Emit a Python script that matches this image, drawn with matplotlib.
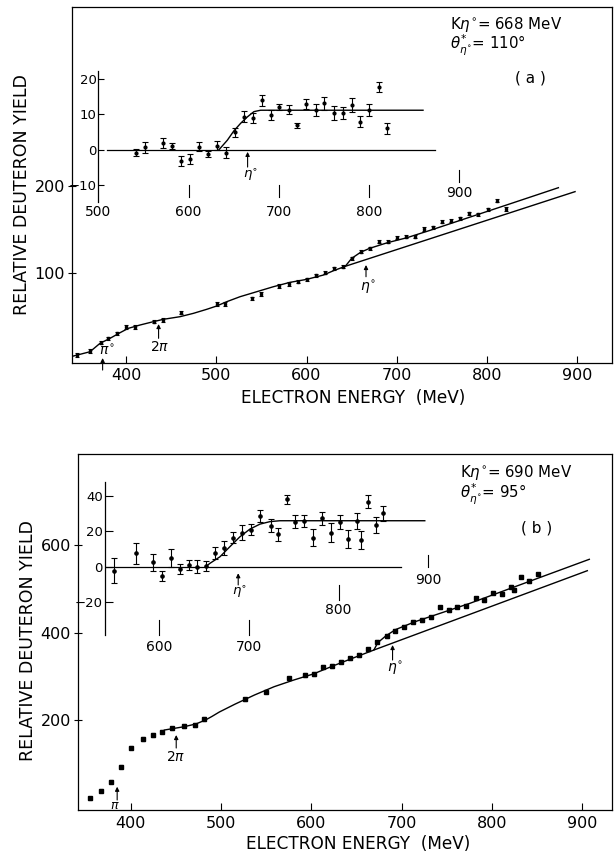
import matplotlib
matplotlib.use("Agg")
import matplotlib.pyplot as plt

# ---- panel (a) main: deuteron yield vs electron energy
a_energy = [345.4, 359.7, 371.9, 379.7, 389.7, 399.7, 409.7, 430.2, 440.2, 460.2,
            500.1, 509.5, 539.5, 549.5, 569.5, 580.1, 590.1, 600.1, 610.1, 620.1,
            630.1, 640.1, 650.1, 660.5, 670.0, 680.5, 690.0, 700.4, 710.0, 720.4,
            730.4, 740.4, 750.4, 760.4, 770.4, 780.4, 790.4, 800.9, 810.9, 820.9]
a_yield = [6.7, 11.3, 20.8, 25.8, 31.5, 39.0, 39.0, 44.8, 46.7, 55.0,
           65.0, 65.0, 71.5, 76.4, 85.5, 87.8, 90.4, 93.1, 97.7, 100.7,
           105.7, 107.5, 117.1, 124.7, 128.5, 136.1, 136.1, 140.6, 141.8, 141.8,
           150.6, 152.5, 158.9, 160.0, 162.8, 168.5, 167.4, 173.1, 182.9, 173.4]
a_fit_x = [341.2, 359.7, 370.8, 381.9, 393.0, 402.2, 415.2, 430.0, 441.1, 459.6,
           474.4, 489.2, 500.3, 511.4, 526.2, 544.7, 563.2, 581.7, 600.2, 618.6,
           630.0, 643.0, 650.0, 660.0, 670.0, 690.0, 711.0, 737.0, 781.0, 825.0, 879.5]
a_fit_y = [5.6, 10.5, 20.1, 25.8, 32.2, 37.2, 41.0, 44.8, 47.5, 50.5,
           54.3, 58.9, 62.7, 67.6, 73.3, 79.0, 84.7, 89.7, 93.1, 98.0,
           103.0, 108.0, 117.0, 124.0, 128.5, 135.0, 140.5, 149.0, 164.0, 179.0, 197.7]
a_bg_x = [643.0, 898.0]
a_bg_y = [108.0, 193.2]

# ---- panel (a) inset: yield above background
a_ins_energy = [541.4, 551.8, 571.3, 581.7, 591.2, 601.6, 611.6, 621.1, 631.1, 641.0,
                651.4, 661.0, 671.3, 681.3, 691.2, 700.7, 711.1, 720.6, 730.5, 741.0,
                750.4, 760.8, 770.7, 780.7, 790.6, 800.6, 811.0, 820.5]
a_ins_yield = [-0.9, 0.7, 1.9, 1.1, -3.3, -2.5, 0.9, -1.2, 1.2, -0.8,
               4.9, 9.4, 9.0, 14.0, 9.9, 12.1, 11.3, 6.9, 13.0, 11.3,
               13.2, 10.4, 10.4, 12.6, 8.0, 11.3, 17.8, 6.1]
a_ins_err = [1.0, 1.5, 1.4, 0.8, 1.4, 1.4, 1.2, 0.8, 1.2, 1.5,
             1.4, 1.5, 1.5, 1.5, 1.5, 0.8, 1.3, 0.8, 1.5, 1.8,
             1.8, 2.0, 1.7, 2.0, 1.5, 1.8, 1.5, 1.5]
a_ins_fit_x = [633.6, 642.9, 650.3, 657.7, 665.1, 672.4, 679.8, 688.0, 860.0]
a_ins_fit_y = [0.0, 2.7, 5.4, 7.5, 9.3, 10.8, 11.2, 11.2, 11.2]
a_ins_zero_x = [509.0, 873.0]

# ---- panel (b) main
b_energy = [355.0, 367.1, 378.0, 389.7, 400.6, 413.5, 424.4, 434.3, 446.1, 459.0,
            470.8, 480.7, 526.2, 550.0, 575.3, 593.5, 603.4, 613.0, 623.0, 632.5,
            642.4, 652.8, 662.8, 672.8, 683.3, 693.2, 702.7, 712.6, 722.6, 732.2,
            742.2, 752.6, 761.7, 771.2, 782.1, 791.6, 800.8, 811.2, 821.2, 824.1,
            832.0, 841.5, 851.5]
b_yield = [22.2, 39.5, 60.1, 94.3, 137.6, 157.5, 166.6, 174.1, 181.9, 187.1,
           189.4, 203.1, 248.0, 265.4, 296.0, 303.5, 305.8, 322.4, 324.0, 333.8,
           341.6, 349.1, 362.1, 379.5, 392.5, 404.6, 413.7, 425.1, 429.0, 435.1,
           458.0, 451.8, 459.3, 461.6, 478.5, 474.6, 491.3, 488.3, 505.0, 497.4,
           527.8, 518.0, 533.2]
b_fit_x = [437.3, 459.0, 472.1, 483.0, 490.0, 498.1, 515.5, 537.1, 558.8, 580.5, 602.1,
           623.8, 645.5, 669.3, 673.6, 682.4, 693.2, 714.9, 775.6, 840.6, 907.9]
b_fit_y = [178.0, 185.5, 191.7, 201.0, 209.0, 219.0, 237.0, 257.9, 276.8, 292.0, 305.8,
           324.0, 341.6, 360.5, 377.2, 392.5, 407.0, 425.1, 467.0, 516.4, 567.5]
b_bg_x = [669.3, 905.7]
b_bg_y = [360.5, 541.5]

# ---- panel (b) inset
b_ins_energy = [549.5, 574.0, 593.3, 603.3, 613.0, 623.0, 633.0, 642.4, 651.7, 662.1,
                672.1, 681.8, 691.8, 701.9, 712.3, 724.2, 732.7, 742.4, 751.3, 761.3,
                771.7, 781.4, 791.1, 801.5, 810.0, 820.0, 824.5, 832.7, 841.2, 849.7]
b_ins_yield = [-2.2, 7.5, 2.4, -5.0, 5.0, -1.1, 0.8, 0.0, 0.4, 7.9,
               10.4, 16.4, 19.2, 20.7, 28.6, 23.1, 18.2, 38.0, 25.4, 25.9,
               16.4, 27.3, 19.2, 25.4, 15.4, 25.7, 15.0, 36.6, 23.5, 30.0]
b_ins_err = [7.0, 6.0, 5.0, 2.8, 4.9, 2.8, 2.8, 3.8, 2.8, 3.3,
             3.8, 3.3, 4.2, 3.1, 3.3, 3.5, 3.5, 2.5, 3.8, 3.3,
             4.9, 3.8, 5.3, 4.0, 5.0, 4.5, 4.9, 3.8, 4.4, 4.2]
b_ins_fit_x = [651.7, 656.5, 667.7, 678.8, 690.0, 701.1, 712.3, 723.4, 734.5, 896.0]
b_ins_fit_y = [0.0, 1.9, 5.6, 11.3, 16.9, 21.2, 24.0, 25.4, 25.9, 25.9]
b_ins_zero_x = [539.5, 870.0]

main_xticks = [400, 500, 600, 700, 800, 900]
a_yticks = [100, 200]
b_yticks = [200, 400, 600]
a_ins_yticks = [-10, 0, 10, 20]
b_ins_yticks = [-20, 0, 20, 40]
ins_xtick_labels = [500, 600, 700, 800, 900]

plt.rcParams['font.family'] = ['DejaVu Sans']
K = 'black'

fig = plt.figure(figsize=(6.14, 8.55), dpi=100)


def main_axes(rect, xlim, ylim, yticks):
    ax = fig.add_axes(rect)
    ax.set_xlim(*xlim)
    ax.set_ylim(*ylim)
    ax.set_xticks(main_xticks)
    ax.set_yticks(yticks)
    ax.tick_params(axis='x', direction='in', length=5, width=0.8, labelsize=11.5, pad=4)
    ax.tick_params(axis='y', direction='inout', length=6, width=0.8, labelsize=11.5, pad=2)
    for s in ax.spines.values():
        s.set_linewidth(0.9)
    ax.set_xlabel('ELECTRON ENERGY  (MeV)', fontsize=12.2)
    ax.set_ylabel('RELATIVE DEUTERON YIELD', fontsize=12.5)
    ax.xaxis.label.set_va('center')
    ax.yaxis.label.set_va('center')
    return ax


def inset_axes(rect, xlim, ylim, yticks):
    ax = fig.add_axes(rect)
    ax.patch.set_alpha(0)
    ax.set_xlim(*xlim)
    ax.set_ylim(*ylim)
    for side in ['top', 'right', 'bottom']:
        ax.spines[side].set_visible(False)
    ax.spines['left'].set_linewidth(0.9)
    ax.set_xticks([])
    ax.set_yticks(yticks)
    ax.tick_params(axis='y', direction='in', length=4, width=0.8, labelsize=9.5, pad=1.5)
    return ax


def arrow(ax, x, y0, y1, label, lx, ly, fs=10):
    ax.annotate('', xy=(x, y1), xytext=(x, y0), annotation_clip=False,
                arrowprops=dict(arrowstyle='-|>', lw=0.8, color=K, mutation_scale=6,
                                shrinkA=0, shrinkB=0))
    ax.text(lx, ly, label, ha='center', va='center', fontsize=fs, clip_on=False)


# ================= panel (a) =================
ax = main_axes([0.1168, 0.5758, 0.8795, 0.4164], (339.4, 938.7), (-2, 404.3), a_yticks)
ax.xaxis.set_label_coords(0.522, -0.099)
ax.yaxis.set_label_coords(-0.092, 0.471)
ax.plot(a_fit_x, a_fit_y, color=K, lw=1.0)
ax.plot(a_bg_x, a_bg_y, color=K, lw=1.0)
ax.errorbar(a_energy, a_yield, yerr=2.0, fmt='s', ms=2.1, color=K, elinewidth=0.8,
            capsize=1.6, capthick=0.8)
arrow(ax, 373.7, -10.4, 3.3, r'$\pi^{\circ}$', 378.5, 11.5, fs=10)
arrow(ax, 435.8, 25.8, 42.1, r'2$\pi$', 437.5, 15.5, fs=10)
arrow(ax, 666.0, 96.1, 109.5, r'$\eta^{\circ}$', 667.7, 84.0, fs=10)
ax.text(0.7006, 0.9486, r'K$\eta^{\circ}$= 668 MeV', transform=ax.transAxes,
        fontsize=10.8, va='center', ha='left')
ax.text(0.7006, 0.8924, r'$\theta^{*}_{\eta^{\circ}}$= 110°', transform=ax.transAxes,
        fontsize=10.8, va='center', ha='left')
ax.text(0.8496, 0.7997, '( a )', transform=ax.transAxes, fontsize=11, va='center', ha='center')

ia = inset_axes([0.16042, 0.76374, 0.62134, 0.15357], (500, 923.2), (-14.8, 22.4), a_ins_yticks)
ia.plot(a_ins_zero_x, [0, 0], color=K, lw=0.9)
ia.plot(a_ins_fit_x, a_ins_fit_y, color=K, lw=1.0)
ia.errorbar(a_ins_energy, a_ins_yield, yerr=a_ins_err, fmt='o', ms=2.0, color=K,
            elinewidth=0.8, capsize=2.0, capthick=0.8)
# staggered energy scale of the inset
for v in ins_xtick_labels:
    if v == 900:
        ia.plot([v, v], [-5.75, -9.15], color=K, lw=0.8, clip_on=False)
        ia.text(v, -12.3, str(v), ha='center', va='center', fontsize=10, clip_on=False)
    else:
        if v != 500:
            ia.plot([v, v], [-10.0, -13.4], color=K, lw=0.8, clip_on=False)
        ia.text(v, -17.6, str(v), ha='center', va='center', fontsize=10, clip_on=False)
arrow(ia, 665.4, -4.9, -0.6, r'$\eta^{\circ}$', 668.5, -7.0, fs=9.5)

# ================= panel (b) =================
bx = main_axes([0.1270, 0.05263, 0.8697, 0.4164], (341.6, 933.0), (-4.5, 807.8), b_yticks)
bx.xaxis.set_label_coords(0.524, -0.0955)
bx.yaxis.set_label_coords(-0.094, 0.475)
bx.plot(b_fit_x, b_fit_y, color=K, lw=1.0)
bx.plot(b_bg_x, b_bg_y, color=K, lw=1.0)
bx.errorbar(b_energy, b_yield, yerr=4.0, fmt='s', ms=2.8, color=K, elinewidth=0.8,
            capsize=1.4, capthick=0.8)
arrow(bx, 385.0, 18.3, 48.6, r'$\pi$', 382.6, 6.9, fs=9)
arrow(bx, 450.4, 136.9, 166.6, r'2$\pi$', 450.2, 117.0, fs=10)
arrow(bx, 690.0, 337.7, 371.9, r'$\eta^{\circ}$', 693.2, 320.0, fs=10)
bx.text(0.7154, 0.9486, r'K$\eta^{\circ}$= 690 MeV', transform=bx.transAxes,
        fontsize=10.8, va='center', ha='left')
bx.text(0.7154, 0.8876, r'$\theta^{*}_{\eta^{\circ}}$= 95°', transform=bx.transAxes,
        fontsize=10.8, va='center', ha='left')
bx.text(0.8584, 0.7913, '( b )', transform=bx.transAxes, fontsize=11, va='center', ha='center')

ib = inset_axes([0.17101, 0.25731, 0.59446, 0.17930], (539.5, 946.4), (-38.5, 47.9), b_ins_yticks)
ib.tick_params(axis='y', length=6)
ib.plot(b_ins_zero_x, [0, 0], color=K, lw=0.9)
ib.plot(b_ins_fit_x, b_ins_fit_y, color=K, lw=1.0)
ib.errorbar(b_ins_energy, b_ins_yield, yerr=b_ins_err, fmt='o', ms=2.3, color=K,
            elinewidth=0.8, capsize=2.0, capthick=0.8)
b_tick_pos = {600: (-30.0, -38.5, -45.2), 700: (-30.0, -38.5, -45.2),
              800: (-10.3, -18.8, -24.4), 900: (6.6, 0.0, -7.5)}
for v in ins_xtick_labels[1:]:
    t0, t1, tl = b_tick_pos[v]
    ib.plot([v, v], [t0, t1], color=K, lw=0.8, clip_on=False)
    ib.text(v, tl, str(v), ha='center', va='center', fontsize=10, clip_on=False)
arrow(ib, 688.0, -10.3, -3.7, r'$\eta^{\circ}$', 689.2, -14.3, fs=9.5)

fig.savefig('out.png', dpi=100)
